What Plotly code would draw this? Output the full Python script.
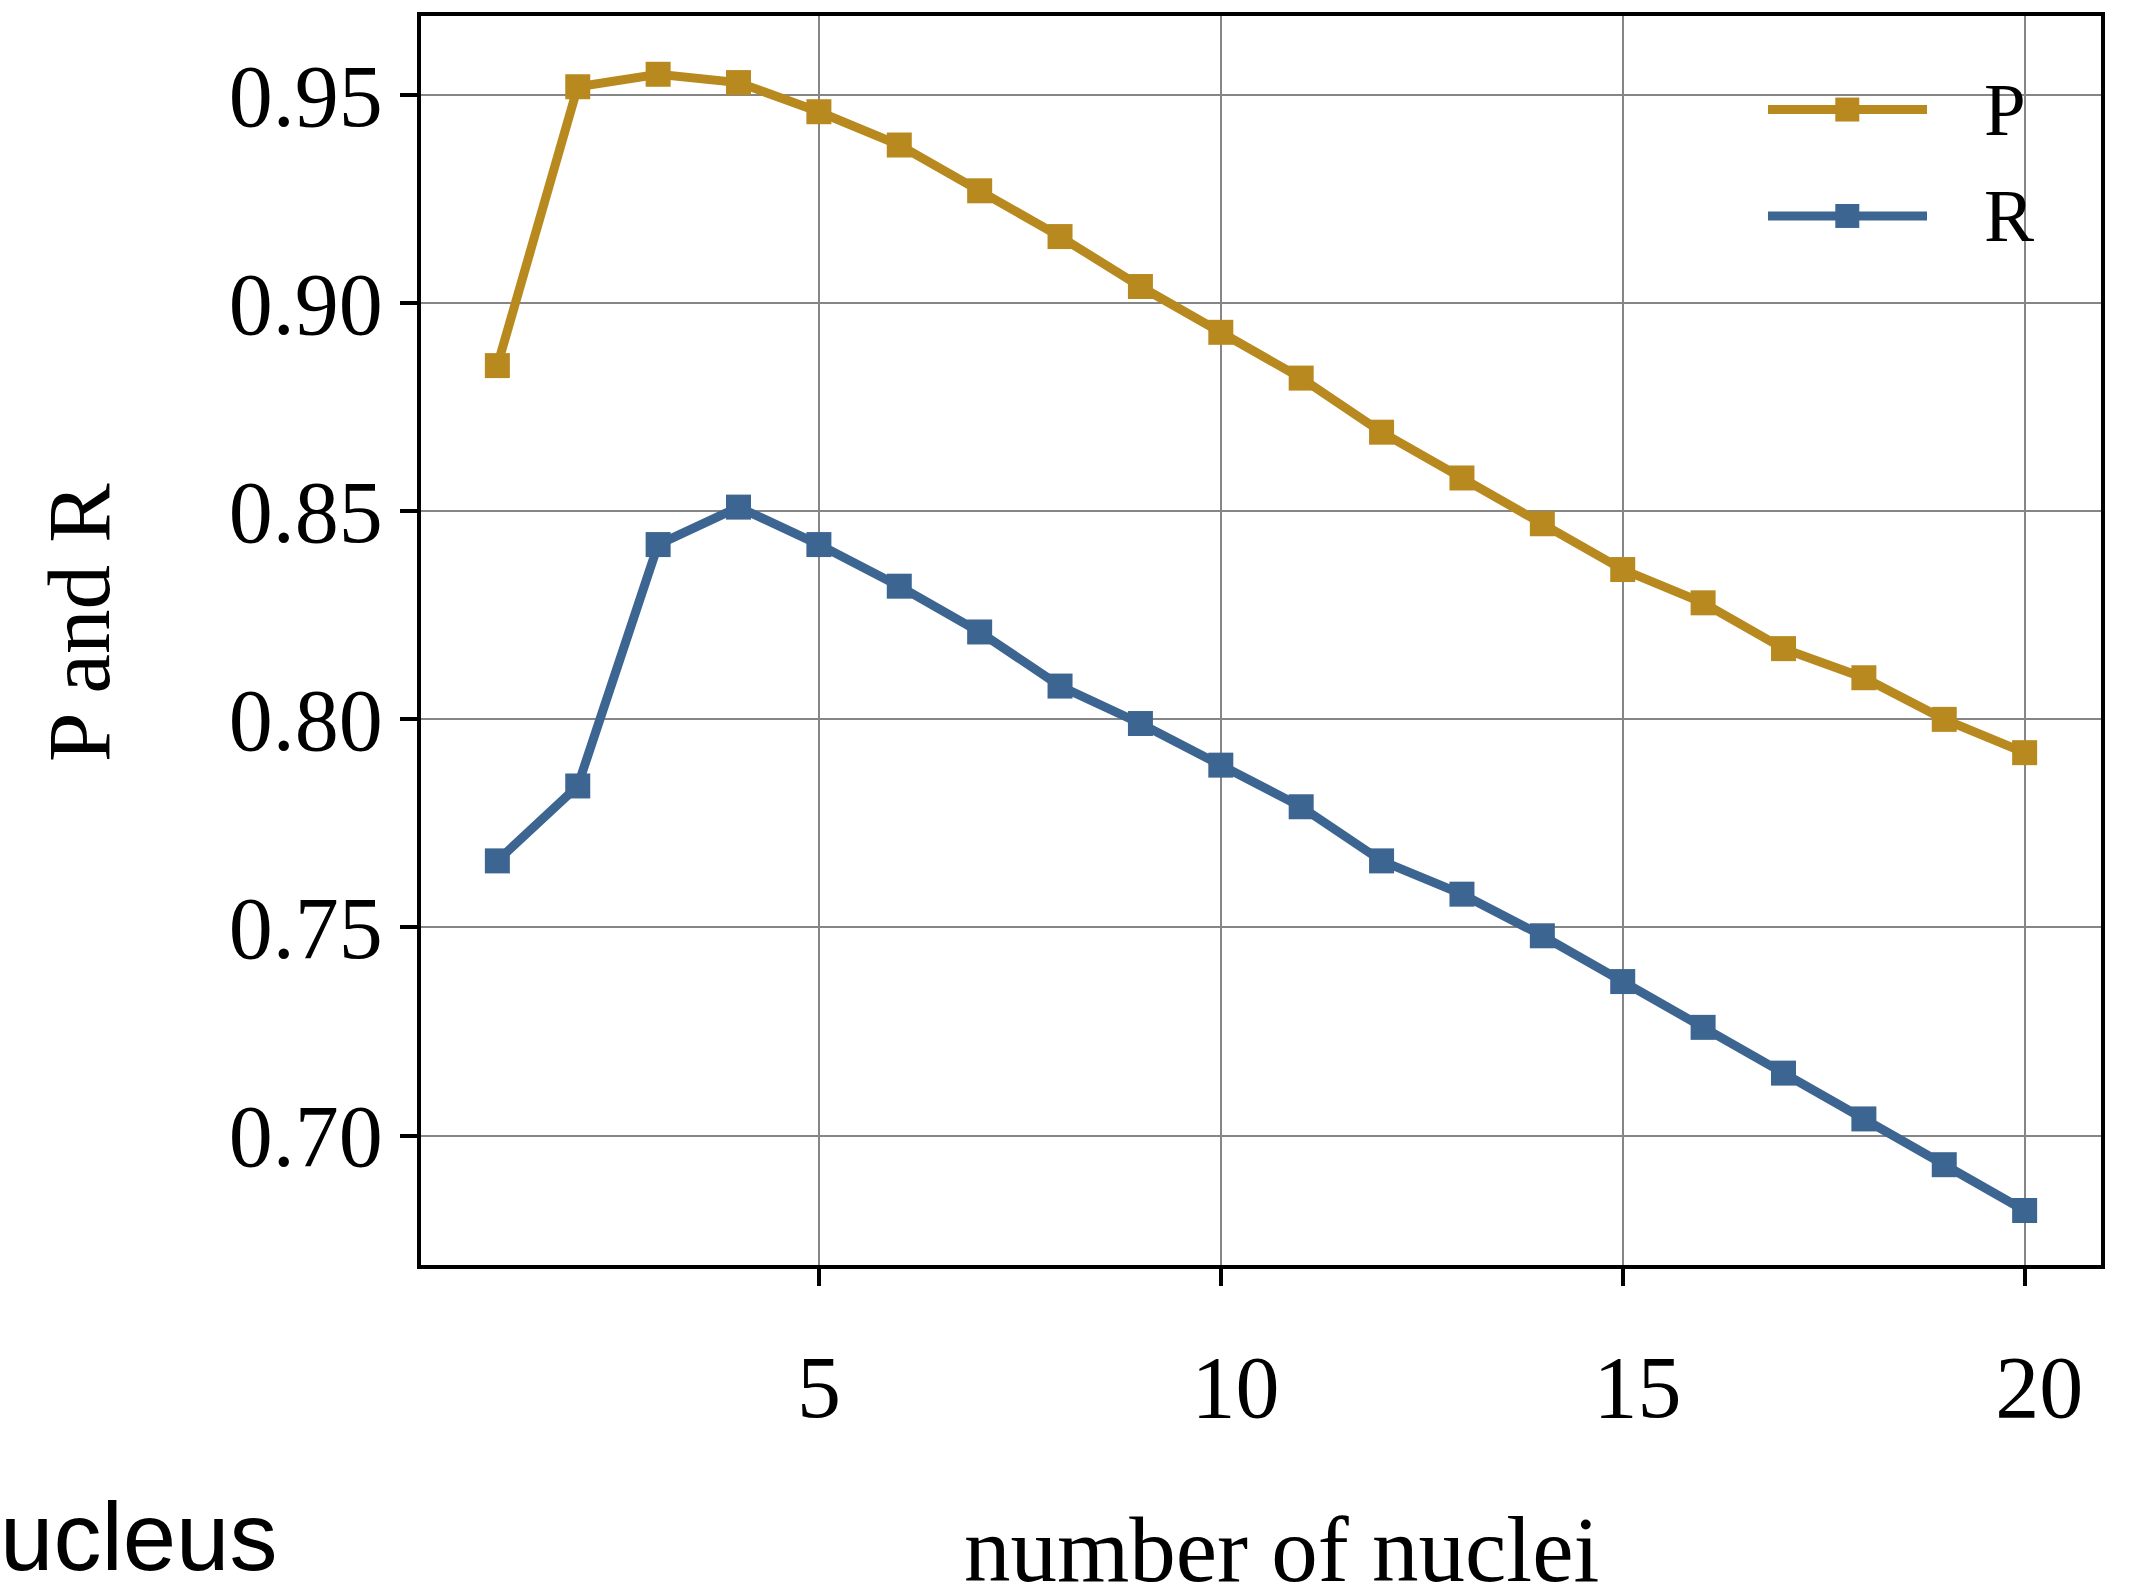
import plotly.graph_objects as go

# ---- data ----
n_nuclei = list(range(1, 21))
P_values = [0.885, 0.952, 0.955, 0.953, 0.946, 0.938, 0.927, 0.916, 0.904, 0.893,
            0.882, 0.869, 0.858, 0.847, 0.836, 0.828, 0.817, 0.810, 0.800, 0.792]
R_values = [0.766, 0.784, 0.842, 0.851, 0.842, 0.832, 0.821, 0.808, 0.799, 0.789,
            0.779, 0.766, 0.758, 0.748, 0.737, 0.726, 0.715, 0.704, 0.693, 0.682]
series_names = ["P", "R"]
series_colors = ["#B8891F", "#3D6591"]
x_tick_vals = [5, 10, 15, 20]
x_tick_text = ["5", "\u00a0\u200a10", "\u00a0\u200a15", "\u00a0\u200a20"]
y_tick_vals = [0.70, 0.75, 0.80, 0.85, 0.90, 0.95]
y_tick_text = ["0.70", "0.75", "0.80", "0.85", "0.90", "0.95"]

W, H = 2142, 1587
L, R, T, B = 421, 41, 14, 322
plot_w = W - L - R
plot_h = H - T - B

def px_x(px):
    return (px - L) / plot_w

def px_y(py):
    return (H - B - py) / plot_h

SERIF = "Liberation Serif"
LINE_W = 9
MARK = 25

fig = go.Figure()
for name, vals, col in zip(series_names, [P_values, R_values], series_colors):
    fig.add_trace(go.Scatter(
        x=n_nuclei, y=vals, mode="lines+markers", name=name,
        line=dict(color=col, width=LINE_W),
        marker=dict(symbol="square", size=MARK, color=col),
        showlegend=False,
    ))

# custom legend (long line samples like the reference)
legend_y_px = [107.7, 214.3]
for name, col, ly in zip(series_names, series_colors, legend_y_px):
    fig.add_shape(type="line", xref="paper", yref="paper",
                  x0=px_x(1768), x1=px_x(1927), y0=px_y(ly), y1=px_y(ly),
                  line=dict(color=col, width=LINE_W))
    fig.add_shape(type="rect", xref="paper", yref="paper",
                  x0=px_x(1847.3 - 12), x1=px_x(1847.3 + 12),
                  y0=px_y(ly - 12), y1=px_y(ly + 12),
                  line=dict(width=0), fillcolor=col)
    fig.add_annotation(text=name, xref="paper", yref="paper",
                       x=px_x(1982), y=px_y(ly), xanchor="left", yanchor="middle",
                       showarrow=False, font=dict(family=SERIF, size=75, color="black"))

# axis titles as annotations for exact placement
fig.add_annotation(text="number of nuclei", xref="paper", yref="paper",
                   x=px_x(1281), y=px_y(1550), xanchor="center", yanchor="middle",
                   showarrow=False, font=dict(family=SERIF, size=93, color="black"))
fig.add_annotation(text="P and R", xref="paper", yref="paper",
                   x=px_x(79), y=px_y(622), xanchor="center", yanchor="middle",
                   textangle=-90, showarrow=False,
                   font=dict(family=SERIF, size=89, color="black"))
fig.add_annotation(text="ucleus", xref="paper", yref="paper",
                   x=px_x(-2), y=px_y(1537), xanchor="left", yanchor="middle",
                   showarrow=False,
                   font=dict(family="Liberation Sans, Arial", size=96, color="black"))

axis_common = dict(
    showline=True, linecolor="black", linewidth=3.5, mirror=True,
    ticks="outside", ticklen=17, tickwidth=3.5, tickcolor="black",
    showgrid=True, gridcolor="#868686", gridwidth=1.6,
    zeroline=False,
    tickfont=dict(family=SERIF, size=88, color="black"),
)

fig.update_xaxes(range=[0.05, 20.95], tickmode="array", tickvals=x_tick_vals,
                 ticktext=x_tick_text, ticklabelstandoff=26, **axis_common)
fig.update_yaxes(range=[0.6689, 0.9690], tickmode="array", tickvals=y_tick_vals,
                 ticktext=y_tick_text, ticklabelstandoff=0, **axis_common)

fig.update_layout(
    width=W, height=H,
    margin=dict(l=L, r=R, t=T, b=B, pad=0),
    paper_bgcolor="white", plot_bgcolor="white",
    showlegend=False,
    font=dict(family=SERIF, color="black"),
)

fig.write_html("out.html")
